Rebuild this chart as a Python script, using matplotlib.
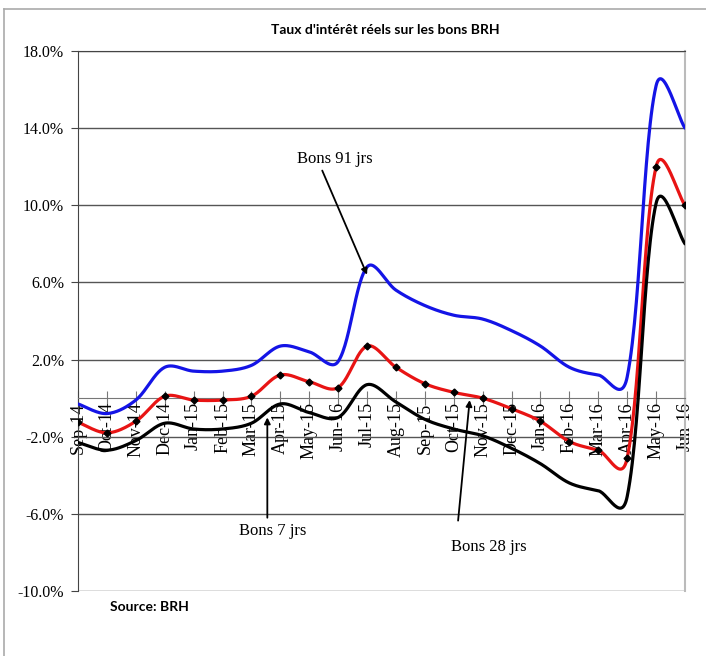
import numpy as np
import matplotlib
matplotlib.use('Agg')
import matplotlib.pyplot as plt
from matplotlib.lines import Line2D

months = ['Sep-14', 'Oct-14', 'Nov-14', 'Dec-14', 'Jan-15', 'Feb-15', 'Mar-15',
          'Apr-15', 'May-15', 'Jun-16', 'Jul-15', 'Aug-15', 'Sep-15', 'Oct-15',
          'Nov-15', 'Dec-15', 'Jan-16', 'Feb-16', 'Mar-16', 'Apr-16', 'May-16',
          'Jun-16']
bons_91 = [-0.3, -0.8, -0.1, 1.6, 1.4, 1.4, 1.7, 2.7, 2.4, 1.9, 6.8, 5.6, 4.8,
           4.3, 4.1, 3.5, 2.7, 1.6, 1.2, 1.1, 16.2, 14.0]
bons_28 = [-1.25, -1.8, -1.2, 0.1, -0.1, -0.1, 0.1, 1.2, 0.85, 0.55, 2.7, 1.6,
           0.75, 0.3, 0.0, -0.55, -1.2, -2.25, -2.7, -3.1, 12.0, 10.0]
bons_7 = [-2.3, -2.7, -2.2, -1.3, -1.6, -1.6, -1.3, -0.3, -0.75, -1.0, 0.7, -0.2,
          -1.1, -1.6, -1.95, -2.6, -3.4, -4.4, -4.8, -5.1, 10.1, 8.0]
yticks = [-10, -6, -2, 2, 6, 10, 14, 18]

serif = ['Liberation Serif', 'DejaVu Serif']
sans = ['Lato', 'DejaVu Sans']

# pixel size of one category step and of one percent (used to weight the curve)
XPX, YPX = 28.9, 19.28


def smooth(y, n=30):
    # bezier smoothing, half uniform / half length weighted (close to Excel)
    x = np.arange(len(y), dtype=float)
    p = np.column_stack([x * XPX, np.asarray(y, dtype=float) * YPX])
    m = len(p)
    cout, cin = np.zeros_like(p), np.zeros_like(p)
    for i in range(m):
        a = p[max(i - 1, 0)]
        b = p[min(i + 1, m - 1)]
        d0 = np.hypot(*(p[i] - a))
        d1 = np.hypot(*(b - p[i]))
        tot = d0 + d1 if d0 + d1 > 0 else 1
        tang = (b - a) / 3
        cout[i] = p[i] + tang * (0.25 + 0.5 * d1 / tot)
        cin[i] = p[i] - tang * (0.25 + 0.5 * d0 / tot)
    t = np.linspace(0, 1, n)[:, None]
    out = []
    for i in range(m - 1):
        p1, c1, c2, p2 = p[i], cout[i], cin[i + 1], p[i + 1]
        seg = ((1 - t) ** 3) * p1 + 3 * ((1 - t) ** 2) * t * c1 \
            + 3 * (1 - t) * t ** 2 * c2 + t ** 3 * p2
        out.append(seg)
    seg = np.vstack(out)
    return seg[:, 0] / XPX, seg[:, 1] / YPX


fig = plt.figure(figsize=(7.06, 6.56), dpi=100)
ax = fig.add_axes([78 / 706, 1 - 591 / 656, 607 / 706, 540 / 656])
ax.spines['bottom'].set_position(('data', 0))

for vals, col in [(bons_91, '#1414e6'), (bons_28, '#e81414'), (bons_7, 'black')]:
    sx, sy = smooth(vals)
    ax.plot(sx, sy, color=col, lw=2.3, solid_capstyle='round', zorder=3)
ax.plot(range(len(months)), bons_28, ls='none', marker='D', ms=3.5,
        color='black', zorder=4)

ax.set_xlim(0, len(months) - 1)
ax.set_ylim(-10, 18)
ax.set_yticks(yticks)
ax.set_yticklabels(['%.1f%%' % v for v in yticks], fontfamily=serif, fontsize=11.5)
ax.yaxis.grid(True, color='#555555', lw=1)
ax.set_axisbelow(True)

ax.set_xticks(range(len(months)))
ax.set_xticklabels(months, rotation=90, fontfamily=serif, fontsize=13)
ax.spines['bottom'].set_color('#777777')
ax.spines['left'].set_color('#444444')
ax.spines['top'].set_color('#444444')
ax.spines['right'].set_color('#bbbbbb')
ax.spines['right'].set_linewidth(1.5)
ax.tick_params(axis='x', direction='inout', length=10, color='#777777', pad=-2)
ax.tick_params(axis='y', direction='out', length=5, color='#444444', pad=5)

fig.text(385 / 706, 1 - 30 / 656, "Taux d'intérêt réels sur les bons BRH",
         ha='center', va='center', fontfamily=sans, fontweight='bold', fontsize=10)
fig.text(110 / 706, 1 - 607 / 656, 'Source: BRH', ha='left', va='center',
         fontfamily=sans, fontweight='bold', fontsize=10)

arrow = dict(arrowstyle='-|>', lw=1.3, color='black', mutation_scale=9,
             shrinkA=0, shrinkB=0)
ax.annotate('', xy=(10.0, 6.4), xytext=(8.45, 11.8), arrowprops=arrow)
ax.text(8.9, 12.4, 'Bons 91 jrs', ha='center', va='center', fontfamily=serif,
        fontsize=12)
ax.annotate('', xy=(6.55, -1.0), xytext=(6.55, -6.2), arrowprops=arrow)
ax.text(6.75, -6.9, 'Bons 7 jrs', ha='center', va='center', fontfamily=serif,
        fontsize=12)
ax.annotate('', xy=(13.55, -0.1), xytext=(13.15, -6.35), arrowprops=arrow)
ax.text(14.2, -7.7, 'Bons 28 jrs', ha='center', va='center', fontfamily=serif,
        fontsize=12)

# outer chart border (top and left only visible)
fig.add_artist(Line2D([4 / 706, 1], [1 - 9 / 656, 1 - 9 / 656],
                      color='#aaaaaa', lw=1.2))
fig.add_artist(Line2D([4 / 706, 4 / 706], [0, 1 - 9 / 656],
                      color='#aaaaaa', lw=1.2))

fig.savefig('out.png', dpi=100)
